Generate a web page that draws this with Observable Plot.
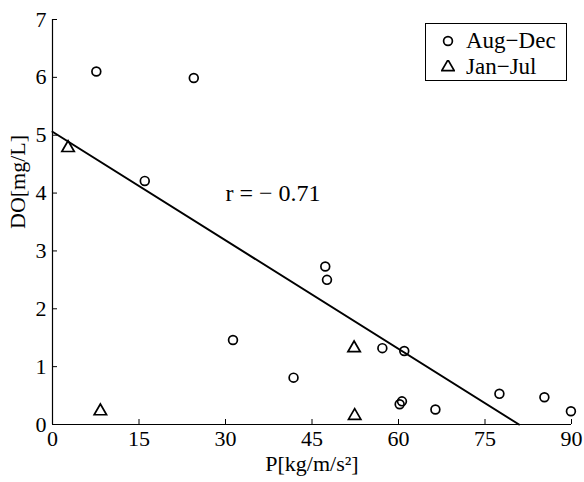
<!DOCTYPE html>
<html><head><meta charset="utf-8">
<script src="https://cdn.jsdelivr.net/npm/d3@7"></script>
<script src="https://cdn.jsdelivr.net/npm/@observablehq/plot@0.6"></script>
<style>
html,body{margin:0;padding:0;background:#fff;font-family:'Liberation Serif',serif;}
#chart{position:relative;width:584px;height:482px;font-family:'Liberation Serif',serif;}
#chart svg text{font-family:'Liberation Serif',serif;}
#legend{position:absolute;left:425px;top:23px;width:142px;height:58px;border:1px solid #000;background:#fff;box-sizing:border-box;}
.lrow{position:absolute;left:0;height:26px;display:flex;align-items:center;font-size:23px;color:#000;font-family:'Liberation Serif',serif;}
.lrow svg{margin-left:15px;margin-right:11px;}
</style></head><body><div id="chart"></div>
<script>
const augDecP  = [7.6, 24.5, 16.0, 31.3, 41.8, 47.3, 47.6, 57.2, 61.0, 60.2, 60.6, 66.4, 77.5, 85.3, 89.9];
const augDecDO = [6.10, 5.99, 4.21, 1.46, 0.81, 2.73, 2.50, 1.32, 1.27, 0.35, 0.40, 0.26, 0.53, 0.47, 0.23];
const janJulP  = [2.7, 8.3, 52.3, 52.4];
const janJulDO = [4.78, 0.23, 1.32, 0.15];
const fitP  = [0, 80.9];
const fitDO = [5.06, 0];
const xTicks = [0, 15, 30, 45, 60, 75, 90];
const yTicks = [0, 1, 2, 3, 4, 5, 6, 7];
const seriesNames = ["Aug\u2212Dec", "Jan\u2212Jul"];
const xLabel = "P[kg/m/s\u00B2]";
const yLabel = "DO[mg/L]";
const rLabel = "r = \u2212 0.71";
const rPos = {P: 30.0, DO: 4.0};

const FF = "Liberation Serif";
const ptsA = augDecP.map((p, i) => ({P: p, DO: augDecDO[i]}));
const ptsJ = janJulP.map((p, i) => ({P: p, DO: janJulDO[i]}));
const fit = fitP.map((p, i) => ({P: p, DO: fitDO[i]}));

const chart = Plot.plot({
  width: 584, height: 482,
  marginLeft: 52, marginRight: 13, marginTop: 19, marginBottom: 58,
  style: {fontFamily: FF, fontSize: "22px", background: "#fff", color: "#000"},
  x: {domain: [0, 90]},
  y: {domain: [0, 7]},
  marks: [
    Plot.axisX(xTicks, {tickSize: -5, tickPadding: 11, fontSize: 22, fontFamily: FF, tickFormat: d => String(d), label: null}),
    Plot.axisY(yTicks, {tickSize: -5, tickPadding: 11, fontSize: 22, fontFamily: FF, tickFormat: d => String(d), label: null}),
    Plot.ruleX([0], {stroke: "#000", strokeWidth: 1.2}),
    Plot.ruleY([0], {stroke: "#000", strokeWidth: 1.2}),
    Plot.text([xLabel], {frameAnchor: "bottom", dy: 46, text: d => d, fontSize: 22, fontFamily: FF, fill: "#000"}),
    Plot.text([yLabel], {frameAnchor: "left", dx: -35, dy: 7, rotate: -90, text: d => d, fontSize: 22, fontFamily: FF, fill: "#000"}),
    Plot.line(fit, {x: "P", y: "DO", stroke: "#000", strokeWidth: 2}),
    Plot.dot(ptsA, {x: "P", y: "DO", r: 4.4, symbol: "circle", stroke: "#000", strokeWidth: 1.7, fill: "none"}),
    Plot.dot(ptsJ, {x: "P", y: "DO", r: 4.6, symbol: "triangle", stroke: "#000", strokeWidth: 1.7, fill: "none"}),
    Plot.text([rLabel], {x: () => rPos.P, y: () => rPos.DO, text: d => d, textAnchor: "start", fontSize: 24, fontFamily: FF, fill: "#000"})
  ]
});
const host = document.getElementById("chart");
host.appendChild(chart);

const legend = document.createElement("div");
legend.id = "legend";
const syms = ["circle", "triangle"];
seriesNames.forEach((name, i) => {
  const row = document.createElement("div");
  row.className = "lrow";
  row.style.top = (4 + i * 26) + "px";
  const s = d3.create("svg").attr("width", 14).attr("height", 14);
  const size = Math.PI * (syms[i] === "circle" ? 4.4 : 4.6) ** 2;
  s.append("path")
    .attr("transform", "translate(7,7)")
    .attr("d", d3.symbol(syms[i] === "circle" ? d3.symbolCircle : d3.symbolTriangle, size)())
    .attr("fill", "none").attr("stroke", "#000").attr("stroke-width", 1.7);
  row.appendChild(s.node());
  const t = document.createElement("span");
  t.textContent = name;
  row.appendChild(t);
  legend.appendChild(row);
});
host.appendChild(legend);
</script></body></html>
